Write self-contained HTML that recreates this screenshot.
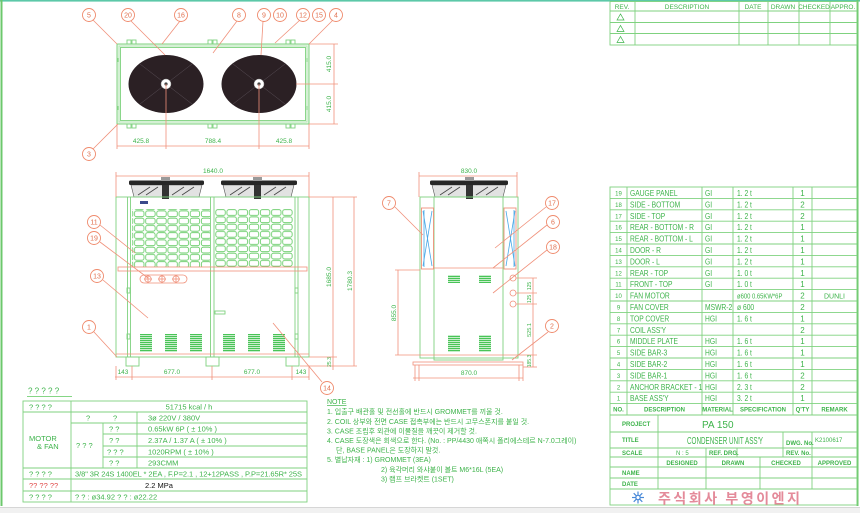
<!DOCTYPE html>
<html><head><meta charset="utf-8">
<style>
html,body{margin:0;padding:0;background:#fff;}
svg{display:block;}
text{font-family:"Liberation Sans","Noto Sans CJK KR",sans-serif;}
.g{fill:#3db34a;}
.gs{fill:#3db34a;font-size:8px;}
.hd{font-family:"Liberation Serif",serif;font-weight:bold;font-size:6px;fill:#3db34a;}
.ln{stroke:#7fd27f;stroke-width:0.9;fill:none;}
.rd{stroke:#f0907a;stroke-width:0.8;fill:none;}
.co{stroke:#ef8a6c;stroke-width:0.9;fill:#fff;}
.cn{fill:#e0704f;font-size:7px;text-anchor:middle;font-family:"Liberation Sans",sans-serif;}
.dm{fill:#3db34a;font-size:6.5px;text-anchor:middle;font-family:"Liberation Sans",sans-serif;}
.kr{font-family:"Liberation Sans","Noto Sans CJK KR",sans-serif;fill:#3db34a;font-size:7px;}
</style></head><body>
<svg width="860" height="513" viewBox="0 0 860 513" xmlns="http://www.w3.org/2000/svg">
<defs>
 <pattern id="coil" patternUnits="userSpaceOnUse" width="11.14" height="7.25">
  <rect x="0.8" y="0.7" width="9.5" height="5.8" rx="2" fill="none" stroke="#5cc85c" stroke-width="0.8"/>
 </pattern>
 <pattern id="louv" patternUnits="userSpaceOnUse" width="12" height="2">
  <rect x="0" y="0" width="12" height="1.3" fill="#49c457"/>
 </pattern>
</defs>

<!-- page border -->
<rect x="0" y="0" width="860" height="1.6" fill="#5cc8a8"/>
<line x1="1.5" y1="0" x2="1.5" y2="506" stroke="#6cc86c" stroke-width="2"/>
<line x1="857.5" y1="0" x2="857.5" y2="506" stroke="#6cc86c" stroke-width="2"/>
<rect x="0" y="507" width="860" height="6" fill="#f1f1f1"/>
<line x1="0" y1="507.5" x2="860" y2="507.5" stroke="#d6d6d6" stroke-width="1"/>

<!-- ===== PLAN VIEW ===== -->
<rect x="117" y="44" width="192" height="80" fill="#e6f6e6" stroke="#7fd27f" stroke-width="1"/>
<rect x="120.5" y="47.5" width="185" height="73" fill="#fff" stroke="#7fd27f" stroke-width="0.9"/>
<rect x="119" y="46" width="188" height="76" fill="none" stroke="#9edc9e" stroke-width="0.5"/>
<g class="ln">
 <rect x="127" y="40" width="4" height="4"/><rect x="132" y="40" width="4" height="4"/>
 <rect x="208" y="40" width="4" height="4"/><rect x="213" y="40" width="4" height="4"/>
 <rect x="286" y="40" width="4" height="4"/><rect x="291" y="40" width="4" height="4"/>
 <rect x="127" y="124" width="4" height="4"/><rect x="132" y="124" width="4" height="4"/>
 <rect x="208" y="124" width="4" height="4"/><rect x="213" y="124" width="4" height="4"/>
 <rect x="286" y="124" width="4" height="4"/><rect x="291" y="124" width="4" height="4"/>
 <line x1="118" y1="58" x2="118" y2="62"/><line x1="118" y1="106" x2="118" y2="110"/>
 <line x1="307" y1="58" x2="307" y2="62"/><line x1="307" y1="106" x2="307" y2="110"/>
</g>
<ellipse cx="166" cy="84" rx="37.5" ry="29" fill="#2b2024"/>
<ellipse cx="259" cy="84" rx="37.5" ry="29" fill="#2b2024"/>
<g stroke="#5a5058" stroke-width="0.5">
 <line x1="140" y1="64" x2="192" y2="104"/><line x1="192" y1="64" x2="140" y2="104"/>
 <line x1="233" y1="64" x2="285" y2="104"/><line x1="285" y1="64" x2="233" y2="104"/>
</g>
<circle cx="166" cy="84" r="5" fill="#fff" stroke="#999" stroke-width="0.5"/>
<circle cx="259" cy="84" r="5" fill="#fff" stroke="#999" stroke-width="0.5"/>
<circle cx="166" cy="84" r="1.6" fill="#444"/><circle cx="259" cy="84" r="1.6" fill="#444"/>
<g class="rd">
 <line x1="93" y1="20" x2="117" y2="44"/>
 <line x1="131" y1="21" x2="165" y2="55"/>
 <line x1="180" y1="21" x2="162" y2="44"/>
 <line x1="237" y1="21" x2="213" y2="53"/>
 <line x1="263" y1="21" x2="261" y2="55"/>
 <line x1="300" y1="20" x2="275" y2="43"/>
 <line x1="333" y1="20" x2="309" y2="44"/>
 <line x1="93" y1="149" x2="118" y2="124"/>
 <line x1="117" y1="146" x2="309" y2="146"/>
 <line x1="117" y1="124" x2="117" y2="149"/>
 <line x1="166" y1="84" x2="166" y2="149"/>
 <line x1="259" y1="84" x2="259" y2="149"/>
 <line x1="309" y1="124" x2="309" y2="149"/>
 <line x1="334" y1="44" x2="334" y2="124"/>
 <line x1="309" y1="44" x2="338" y2="44"/>
 <line x1="296" y1="84" x2="338" y2="84"/>
 <line x1="309" y1="124" x2="338" y2="124"/>
</g>
<text class="dm" x="141" y="143">425.8</text>
<text class="dm" x="213" y="143">788.4</text>
<text class="dm" x="284" y="143">425.8</text>
<text class="dm" transform="translate(331,64) rotate(-90)">415.0</text>
<text class="dm" transform="translate(331,104) rotate(-90)">415.0</text>
<g>
 <circle class="co" cx="89" cy="15" r="6.5"/><text class="cn" x="89" y="17.5">5</text>
 <circle class="co" cx="128" cy="15" r="6.5"/><text class="cn" x="128" y="17.5">20</text>
 <circle class="co" cx="181" cy="15" r="6.5"/><text class="cn" x="181" y="17.5">16</text>
 <circle class="co" cx="239" cy="15" r="6.5"/><text class="cn" x="239" y="17.5">8</text>
 <circle class="co" cx="264" cy="15" r="6.5"/><text class="cn" x="264" y="17.5">9</text>
 <circle class="co" cx="280" cy="15" r="6.5"/><text class="cn" x="280" y="17.5">10</text>
 <circle class="co" cx="303" cy="15" r="6.5"/><text class="cn" x="303" y="17.5">12</text>
 <circle class="co" cx="319" cy="15" r="6.5"/><text class="cn" x="319" y="17.5">15</text>
 <circle class="co" cx="336" cy="15" r="6.5"/><text class="cn" x="336" y="17.5">4</text>
 <circle class="co" cx="89" cy="154" r="6.5"/><text class="cn" x="89" y="156.5">3</text>
</g>

<!-- ===== FRONT VIEW ===== -->
<g>
 <polygon points="131,185 202,185 199,197 134,197" fill="#e2e2e2" stroke="#555" stroke-width="0.6"/>
 <g stroke="#444" stroke-width="0.8"><line x1="138" y1="195" x2="150" y2="187"/><line x1="146" y1="195" x2="158" y2="187"/><line x1="172" y1="195" x2="184" y2="187"/><line x1="182" y1="195" x2="194" y2="187"/></g>
 <rect x="129" y="180.5" width="75" height="4.5" rx="1.5" fill="#262626"/>
 <rect x="161" y="177" width="9" height="4" fill="#999"/>
 <rect x="162" y="185" width="7" height="14" fill="#333"/>
 <polygon points="223,185 294,185 291,197 226,197" fill="#e2e2e2" stroke="#555" stroke-width="0.6"/>
 <g stroke="#444" stroke-width="0.8"><line x1="230" y1="195" x2="242" y2="187"/><line x1="238" y1="195" x2="250" y2="187"/><line x1="264" y1="195" x2="276" y2="187"/><line x1="274" y1="195" x2="286" y2="187"/></g>
 <rect x="221" y="180.5" width="76" height="4.5" rx="1.5" fill="#262626"/>
 <rect x="253" y="177" width="9" height="4" fill="#999"/>
 <rect x="254" y="185" width="7" height="14" fill="#333"/>
</g>
<g class="ln">
 <rect x="116" y="197" width="193" height="160"/>
 <line x1="127.5" y1="197" x2="127.5" y2="357"/>
 <line x1="130.5" y1="197" x2="130.5" y2="357"/>
 <line x1="210.5" y1="197" x2="210.5" y2="357"/>
 <line x1="214" y1="197" x2="214" y2="357"/>
 <line x1="295" y1="197" x2="295" y2="357"/>
 <line x1="298" y1="197" x2="298" y2="357"/>
 <rect x="215" y="311" width="10" height="3"/>
 <rect x="127" y="288" width="3" height="5"/><rect x="127" y="334" width="3" height="5"/>
 <rect x="295" y="288" width="3" height="5"/><rect x="295" y="334" width="3" height="5"/>
 <rect x="126" y="357" width="13" height="9"/>
 <rect x="206" y="357" width="13" height="9"/>
 <rect x="286" y="357" width="13" height="9"/>
</g>
<rect x="140" y="201" width="8" height="3" fill="#3a4a8a"/>
<rect x="132" y="209" width="78" height="58" fill="url(#coil)"/>
<g transform="translate(215,209)"><rect x="0" y="0" width="78" height="58" fill="url(#coil)"/></g>
<rect x="118" y="267" width="189" height="4" class="rd"/>
<rect x="140" y="275" width="47" height="8" rx="4" class="rd"/>
<g class="rd">
 <circle cx="148" cy="279" r="3.2"/><line x1="144" y1="279" x2="152" y2="279"/><line x1="148" y1="275" x2="148" y2="283"/>
 <circle cx="162" cy="279" r="3.2"/><line x1="158" y1="279" x2="166" y2="279"/><line x1="162" y1="275" x2="162" y2="283"/>
 <circle cx="176" cy="279" r="3.2"/><line x1="172" y1="279" x2="180" y2="279"/><line x1="176" y1="275" x2="176" y2="283"/>
 <line x1="116" y1="354" x2="309" y2="354"/>
</g>
<g>
 <rect x="140" y="334" width="12" height="18" fill="url(#louv)"/>
 <rect x="165" y="334" width="12" height="18" fill="url(#louv)"/>
 <rect x="190" y="334" width="12" height="18" fill="url(#louv)"/>
 <rect x="223" y="334" width="12" height="18" fill="url(#louv)"/>
 <rect x="248" y="334" width="12" height="18" fill="url(#louv)"/>
 <rect x="273" y="334" width="12" height="18" fill="url(#louv)"/>
</g>
<g class="rd">
 <line x1="116" y1="176" x2="309" y2="176"/>
 <line x1="116" y1="172" x2="116" y2="197"/><line x1="309" y1="172" x2="309" y2="197"/>
 <line x1="309" y1="197" x2="357" y2="197"/>
 <line x1="309" y1="357" x2="337" y2="357"/>
 <line x1="300" y1="366" x2="357" y2="366"/>
 <line x1="333" y1="197" x2="333" y2="370"/>
 <line x1="354" y1="197" x2="354" y2="366"/>
 <line x1="115" y1="377" x2="309" y2="377"/>
 <line x1="116" y1="366" x2="116" y2="380"/>
 <line x1="132" y1="366" x2="132" y2="380"/>
 <line x1="212" y1="366" x2="212" y2="380"/>
 <line x1="292" y1="366" x2="292" y2="380"/>
 <line x1="309" y1="366" x2="309" y2="380"/>
</g>
<text class="dm" x="213" y="173">1640.0</text>
<text class="dm" transform="translate(331,277) rotate(-90)">1685.0</text>
<text class="dm" transform="translate(352,281) rotate(-90)">1780.3</text>
<text class="dm" style="font-size:5px" transform="translate(331,362) rotate(-90)">25.3</text>
<text class="dm" x="123" y="374">143</text>
<text class="dm" x="172" y="374">677.0</text>
<text class="dm" x="252" y="374">677.0</text>
<text class="dm" x="301" y="374">143</text>
<g class="rd">
 <line x1="100" y1="225" x2="135" y2="253"/>
 <line x1="100" y1="242" x2="148" y2="278"/>
 <line x1="103" y1="280" x2="148" y2="318"/>
 <line x1="94" y1="332" x2="117" y2="357"/>
 <line x1="322" y1="382" x2="273" y2="323"/>
</g>
<circle class="co" cx="94" cy="222" r="6.5"/><text class="cn" x="94" y="224.5">11</text>
<circle class="co" cx="94" cy="238" r="6.5"/><text class="cn" x="94" y="240.5">19</text>
<circle class="co" cx="97" cy="276" r="6.5"/><text class="cn" x="97" y="278.5">13</text>
<circle class="co" cx="89" cy="327" r="6.5"/><text class="cn" x="89" y="329.5">1</text>
<circle class="co" cx="327" cy="388" r="6.5"/><text class="cn" x="327" y="390.5">14</text>

<!-- ===== SIDE VIEW ===== -->
<polygon points="432,185 506,185 503,197 435,197" fill="#e2e2e2" stroke="#555" stroke-width="0.6"/>
<g stroke="#444" stroke-width="0.8"><line x1="440" y1="195" x2="452" y2="187"/><line x1="448" y1="195" x2="460" y2="187"/><line x1="476" y1="195" x2="488" y2="187"/><line x1="486" y1="195" x2="498" y2="187"/></g>
<rect x="430" y="180.5" width="78" height="4.5" rx="1.5" fill="#262626"/>
<rect x="465" y="177" width="9" height="4" fill="#999"/>
<rect x="466" y="185" width="7" height="14" fill="#333"/>
<g class="ln">
 <rect x="420" y="197" width="98" height="161"/>
 <rect x="434" y="197" width="69" height="163"/>
</g>
<g>
 <rect x="421.5" y="208" width="12" height="61" fill="none" stroke="#f0907a" stroke-width="0.9"/>
 <rect x="504" y="208" width="12" height="61" fill="none" stroke="#f0907a" stroke-width="0.9"/>
 <g stroke="#4aa8e6" stroke-width="0.8">
  <line x1="423" y1="211" x2="432" y2="266"/><line x1="432" y1="211" x2="423" y2="266"/>
  <line x1="506" y1="211" x2="515" y2="266"/><line x1="515" y1="211" x2="506" y2="266"/>
  <line x1="424" y1="210" x2="424" y2="267"/><line x1="514" y1="210" x2="514" y2="267"/>
 </g>
</g>
<g class="rd">
 <line x1="434" y1="268" x2="503" y2="268"/>
 <line x1="420" y1="355" x2="518" y2="355"/>
 <rect x="413" y="362" width="110" height="3"/>
 <line x1="415" y1="365" x2="415" y2="381"/><line x1="419" y1="365" x2="419" y2="381"/>
 <line x1="519" y1="365" x2="519" y2="381"/><line x1="523" y1="365" x2="523" y2="381"/>
 <circle cx="513" cy="278" r="3"/><circle cx="513" cy="293" r="3"/><circle cx="513" cy="304" r="3"/>
 <line x1="419" y1="176" x2="517" y2="176"/>
 <line x1="419" y1="172" x2="419" y2="197"/><line x1="517" y1="172" x2="517" y2="197"/>
 <line x1="395" y1="270" x2="420" y2="270"/><line x1="395" y1="355" x2="420" y2="355"/>
 <line x1="398" y1="270" x2="398" y2="355"/>
 <line x1="533" y1="278" x2="533" y2="367"/>
 <line x1="516" y1="278" x2="537" y2="278"/><line x1="516" y1="293" x2="537" y2="293"/>
 <line x1="516" y1="304" x2="537" y2="304"/><line x1="518" y1="355" x2="537" y2="355"/>
 <line x1="523" y1="367" x2="537" y2="367"/>
 <line x1="413" y1="378" x2="523" y2="378"/>
 <line x1="395" y1="207" x2="423" y2="235"/>
 <line x1="546" y1="207" x2="495" y2="248"/>
 <line x1="547" y1="225" x2="493" y2="268"/>
 <line x1="547" y1="250" x2="493" y2="293"/>
 <line x1="548" y1="332" x2="512" y2="360"/>
</g>
<g>
 <rect x="448" y="275" width="12" height="8" fill="url(#louv)"/>
 <rect x="479" y="275" width="12" height="8" fill="url(#louv)"/>
 <rect x="448" y="335" width="12" height="17" fill="url(#louv)"/>
 <rect x="479" y="335" width="12" height="17" fill="url(#louv)"/>
</g>
<text class="dm" x="469" y="173">830.0</text>
<text class="dm" x="469" y="375">870.0</text>
<text class="dm" transform="translate(396,313) rotate(-90)">855.0</text>
<text class="dm" style="font-size:5px" transform="translate(531,286) rotate(-90)">125</text>
<text class="dm" style="font-size:5px" transform="translate(531,299) rotate(-90)">125</text>
<text class="dm" style="font-size:5.5px" transform="translate(531,330) rotate(-90)">525.1</text>
<text class="dm" style="font-size:5px" transform="translate(531,361) rotate(-90)">185.3</text>
<circle class="co" cx="389" cy="203" r="6.5"/><text class="cn" x="389" y="205.5">7</text>
<circle class="co" cx="552" cy="203" r="6.5"/><text class="cn" x="552" y="205.5">17</text>
<circle class="co" cx="553" cy="222" r="6.5"/><text class="cn" x="553" y="224.5">6</text>
<circle class="co" cx="553" cy="247" r="6.5"/><text class="cn" x="553" y="249.5">18</text>
<circle class="co" cx="552" cy="326" r="6.5"/><text class="cn" x="552" y="328.5">2</text>

<!-- ===== REVISION TABLE ===== -->
<g class="ln">
 <rect x="610" y="1.5" width="247" height="43.5"/>
 <line x1="610" y1="11" x2="857" y2="11"/>
 <line x1="610" y1="22.5" x2="857" y2="22.5"/>
 <line x1="610" y1="33.5" x2="857" y2="33.5"/>
 <line x1="635" y1="1.5" x2="635" y2="45"/>
 <line x1="739" y1="1.5" x2="739" y2="45"/>
 <line x1="768" y1="1.5" x2="768" y2="45"/>
 <line x1="799" y1="1.5" x2="799" y2="45"/>
 <line x1="830" y1="1.5" x2="830" y2="45"/>
</g>
<g class="hd" style="font-size:6.5px;font-weight:normal" text-anchor="middle">
 <text x="622" y="9">REV.</text>
 <text x="687" y="9">DESCRIPTION</text>
 <text x="753" y="9">DATE</text>
 <text x="783" y="9">DRAWN</text>
 <text x="814" y="9">CHECKED</text>
 <text x="843" y="9">APPRO.</text>
</g>
<g fill="none" stroke="#3db34a" stroke-width="0.7">
 <polygon points="617,20 620.5,14 624,20"/>
 <polygon points="617,31.5 620.5,25.5 624,31.5"/>
 <polygon points="617,42.5 620.5,36.5 624,42.5"/>
</g>

<!-- ===== PARTS LIST ===== -->
<g class="ln">
 <rect x="610" y="187" width="247" height="318"/>
 <line x1="610" y1="198.4" x2="857" y2="198.4"/>
 <line x1="610" y1="209.8" x2="857" y2="209.8"/>
 <line x1="610" y1="221.2" x2="857" y2="221.2"/>
 <line x1="610" y1="232.6" x2="857" y2="232.6"/>
 <line x1="610" y1="244" x2="857" y2="244"/>
 <line x1="610" y1="255.4" x2="857" y2="255.4"/>
 <line x1="610" y1="266.8" x2="857" y2="266.8"/>
 <line x1="610" y1="278.2" x2="857" y2="278.2"/>
 <line x1="610" y1="289.6" x2="857" y2="289.6"/>
 <line x1="610" y1="301" x2="857" y2="301"/>
 <line x1="610" y1="312.4" x2="857" y2="312.4"/>
 <line x1="610" y1="323.8" x2="857" y2="323.8"/>
 <line x1="610" y1="335.2" x2="857" y2="335.2"/>
 <line x1="610" y1="346.6" x2="857" y2="346.6"/>
 <line x1="610" y1="358" x2="857" y2="358"/>
 <line x1="610" y1="369.4" x2="857" y2="369.4"/>
 <line x1="610" y1="380.8" x2="857" y2="380.8"/>
 <line x1="610" y1="392.2" x2="857" y2="392.2"/>
 <line x1="610" y1="403.6" x2="857" y2="403.6"/>
 <line x1="610" y1="415" x2="857" y2="415"/>
 <line x1="627" y1="187" x2="627" y2="415"/>
 <line x1="702" y1="187" x2="702" y2="415"/>
 <line x1="733" y1="187" x2="733" y2="415"/>
 <line x1="793" y1="187" x2="793" y2="415"/>
 <line x1="812" y1="187" x2="812" y2="415"/>
 <line x1="610" y1="432" x2="857" y2="432"/>
 <line x1="610" y1="448" x2="857" y2="448"/>
 <line x1="610" y1="457" x2="857" y2="457"/>
 <line x1="610" y1="467" x2="857" y2="467"/>
 <line x1="610" y1="478" x2="857" y2="478"/>
 <line x1="610" y1="489" x2="857" y2="489"/>
 <line x1="658" y1="415" x2="658" y2="489"/>
 <line x1="783" y1="432" x2="783" y2="457"/>
 <line x1="812" y1="432" x2="812" y2="489"/>
 <line x1="706" y1="448" x2="706" y2="489"/>
 <line x1="737" y1="448" x2="737" y2="457"/>
 <line x1="760" y1="457" x2="760" y2="489"/>
</g>
<g class="gs">
 <g style="font-size:6px" text-anchor="middle">
  <text x="618.5" y="195.5">19</text><text x="618.5" y="206.9">18</text><text x="618.5" y="218.3">17</text>
  <text x="618.5" y="229.7">16</text><text x="618.5" y="241.1">15</text><text x="618.5" y="252.5">14</text>
  <text x="618.5" y="263.9">13</text><text x="618.5" y="275.3">12</text><text x="618.5" y="286.7">11</text>
  <text x="618.5" y="298.1">10</text><text x="618.5" y="309.5">9</text><text x="618.5" y="320.9">8</text>
  <text x="618.5" y="332.3">7</text><text x="618.5" y="343.7">6</text><text x="618.5" y="355.1">5</text>
  <text x="618.5" y="366.5">4</text><text x="618.5" y="377.9">3</text><text x="618.5" y="389.3">2</text>
  <text x="618.5" y="400.7">1</text>
 </g>
 <g transform="matrix(0.84,0,0,1,630,0)">
 <text x="0" y="196">GAUGE PANEL</text>
 <text x="0" y="207.4">SIDE - BOTTOM</text>
 <text x="0" y="218.8">SIDE - TOP</text>
 <text x="0" y="230.2">REAR - BOTTOM - R</text>
 <text x="0" y="241.6">REAR - BOTTOM - L</text>
 <text x="0" y="253">DOOR - R</text>
 <text x="0" y="264.4">DOOR - L</text>
 <text x="0" y="275.8">REAR - TOP</text>
 <text x="0" y="287.2">FRONT - TOP</text>
 <text x="0" y="298.6">FAN    MOTOR</text>
 <text x="0" y="310">FAN COVER</text>
 <text x="0" y="321.4">TOP COVER</text>
 <text x="0" y="332.8">COIL ASS'Y</text>
 <text x="0" y="344.2">MIDDLE PLATE</text>
 <text x="0" y="355.6">SIDE BAR-3</text>
 <text x="0" y="367">SIDE BAR-2</text>
 <text x="0" y="378.4">SIDE BAR-1</text>
 <text x="0" y="389.8">ANCHOR BRACKET - 1</text>
 <text x="0" y="401.2">BASE ASS'Y</text>
 </g>
 <g transform="matrix(0.84,0,0,1,705,0)">
 <text x="0" y="196">GI</text><text x="0" y="207.4">GI</text><text x="0" y="218.8">GI</text>
 <text x="0" y="230.2">GI</text><text x="0" y="241.6">GI</text><text x="0" y="253">GI</text>
 <text x="0" y="264.4">GI</text><text x="0" y="275.8">GI</text><text x="0" y="287.2">GI</text>
 <text x="0" y="310">MSWR-2</text>
 <text x="0" y="321.4">HGI</text><text x="0" y="344.2">HGI</text><text x="0" y="355.6">HGI</text>
 <text x="0" y="367">HGI</text><text x="0" y="378.4">HGI</text><text x="0" y="389.8">HGI</text>
 <text x="0" y="401.2">HGI</text>
 </g>
 <g transform="matrix(0.84,0,0,1,737,0)">
 <text x="0" y="196">1. 2 t</text><text x="0" y="207.4">1. 2 t</text><text x="0" y="218.8">1. 2 t</text>
 <text x="0" y="230.2">1. 2 t</text><text x="0" y="241.6">1. 2 t</text><text x="0" y="253">1. 2 t</text>
 <text x="0" y="264.4">1. 2 t</text><text x="0" y="275.8">1. 0 t</text><text x="0" y="287.2">1. 0 t</text>
 <text x="0" y="298.6" style="font-size:7px">ø600 0.65KW*6P</text>
 <text x="0" y="310">ø 600</text>
 <text x="0" y="321.4">1. 6 t</text><text x="0" y="344.2">1. 6 t</text><text x="0" y="355.6">1. 6 t</text>
 <text x="0" y="367">1. 6 t</text><text x="0" y="378.4">1. 6 t</text><text x="0" y="389.8">2. 3 t</text>
 <text x="0" y="401.2">3. 2 t</text>
 </g>
 <g text-anchor="middle">
  <text x="802.5" y="196">1</text><text x="802.5" y="207.4">2</text><text x="802.5" y="218.8">2</text>
  <text x="802.5" y="230.2">1</text><text x="802.5" y="241.6">1</text><text x="802.5" y="253">1</text>
  <text x="802.5" y="264.4">1</text><text x="802.5" y="275.8">1</text><text x="802.5" y="287.2">1</text>
  <text x="802.5" y="298.6">2</text><text x="802.5" y="310">2</text><text x="802.5" y="321.4">1</text>
  <text x="802.5" y="332.8">2</text><text x="802.5" y="344.2">1</text><text x="802.5" y="355.6">1</text>
  <text x="802.5" y="367">1</text><text x="802.5" y="378.4">2</text><text x="802.5" y="389.8">2</text>
  <text x="802.5" y="401.2">1</text>
  <text x="834.5" y="298.6" style="font-size:7px">DUNLI</text>
 </g>
</g>
<g class="hd" text-anchor="middle">
 <text x="618.5" y="411.5">NO.</text>
 <text x="664.5" y="411.5">DESCRIPTION</text>
 <text x="717.5" y="411.5">MATERIAL</text>
 <text x="763" y="411.5">SPECIFICATION</text>
 <text x="802.5" y="411.5">Q'TY</text>
 <text x="834.5" y="411.5">REMARK</text>
</g>
<g class="hd">
 <text x="622" y="426">PROJECT</text>
 <text x="622" y="442">TITLE</text>
 <text x="622" y="455">SCALE</text>
 <text x="622" y="475">NAME</text>
 <text x="622" y="486">DATE</text>
 <text x="786" y="445">DWG. No.</text>
 <text x="709" y="455">REF. DRG.</text>
 <text x="786" y="455">REV. No.</text>
 <text x="676" y="455" style="font-weight:normal">N : 5</text>
 <text x="815" y="442" style="font-weight:normal">K2100617</text>
 <g text-anchor="middle">
  <text x="682" y="465">DESIGNED</text>
  <text x="733" y="465">DRAWN</text>
  <text x="786" y="465">CHECKED</text>
  <text x="834.5" y="465">APPROVED</text>
 </g>
</g>
<text x="702" y="428" style="font-family:'Liberation Sans',sans-serif;font-size:10px;fill:#3db34a">PA  150</text>
<text x="687" y="444" class="g" style="font-size:10px" textLength="76" lengthAdjust="spacingAndGlyphs">CONDENSER UNIT ASS'Y</text>
<g transform="translate(638,497.5)" stroke="#4a8ad8" stroke-width="1.2">
 <line x1="-6" y1="0" x2="6" y2="0"/><line x1="0" y1="-6" x2="0" y2="6"/>
 <line x1="-4.3" y1="-4.3" x2="4.3" y2="4.3"/><line x1="-4.3" y1="4.3" x2="4.3" y2="-4.3"/>
 <circle r="2.2" fill="#fff"/>
</g>
<text x="658" y="503.5" textLength="142" style="font-family:'Noto Sans CJK KR','Liberation Sans',sans-serif;font-size:14px;font-weight:bold;fill:#e48a9a">주식회사 부영이엔지</text>

<!-- ===== SPEC TABLE ===== -->
<text x="28" y="393.5" class="gs">? ? ? ? ?</text>
<line x1="27" y1="396.5" x2="72" y2="396.5" stroke="#5cc85c" stroke-width="0.8"/>
<g class="ln">
 <rect x="23" y="401" width="284" height="101"/>
 <line x1="23" y1="412" x2="307" y2="412"/>
 <line x1="71" y1="423" x2="307" y2="423"/>
 <line x1="103" y1="434" x2="307" y2="434"/>
 <line x1="103" y1="446" x2="307" y2="446"/>
 <line x1="103" y1="457" x2="307" y2="457"/>
 <line x1="23" y1="468" x2="307" y2="468"/>
 <line x1="23" y1="479" x2="307" y2="479"/>
 <line x1="23" y1="491" x2="307" y2="491"/>
 <line x1="71" y1="401" x2="71" y2="502"/>
 <line x1="103" y1="423" x2="103" y2="468"/>
 <line x1="137" y1="412" x2="137" y2="468"/>
</g>
<g class="gs" style="font-size:7.5px">
 <text x="29" y="409.5">? ? ? ?</text>
 <text x="189" y="409.5" text-anchor="middle">51715  kcal  /  h</text>
 <text x="86" y="420.5">?</text><text x="113" y="420.5">?</text>
 <text x="148" y="420.5">3ø  220V  /  380V</text>
 <text x="29" y="441">MOTOR</text>
 <text x="37" y="449">&amp; FAN</text>
 <text x="76" y="448">? ? ?</text>
 <text x="109" y="431.5">?     ?</text>
 <text x="109" y="443">?     ?</text>
 <text x="107" y="454.5">? ? ?</text>
 <text x="109" y="465.5">?     ?</text>
 <text x="148" y="431.5">0.65kW  6P  (  ±  10%  )</text>
 <text x="148" y="443">2.37A  /  1.37  A  (  ±  10%  )</text>
 <text x="148" y="454.5">1020RPM  (  ±  10%  )</text>
 <text x="148" y="465.5">293CMM</text>
 <text x="29" y="476.5">? ? ? ?</text>
 <text x="75" y="476.5" textLength="227">3/8"  3R  24S  1400EL  *  2EA  ,  F.P=2.1  ,  12+12PASS  ,  P.P=21.65R*  25S</text>
 <text x="29" y="488" style="fill:#e04848">?? ?? ??</text>
 <text x="145" y="488" style="fill:#111">2.2  MPa</text>
 <text x="29" y="499.5">? ? ? ?</text>
 <text x="75" y="499.5">? ? : ø34.92      ? ? : ø22.22</text>
</g>

<!-- ===== NOTES ===== -->
<g class="kr">
 <text x="327" y="404" style="text-decoration:underline">NOTE</text>
 <text x="327" y="414">1.  입출구 배관홀 및 전선홀에 반드시 GROMMET를 끼울 것.</text>
 <text x="327" y="424">2.  COIL 상부와 전면 CASE 접촉부에는 반드시 고무스폰지를 붙일 것.</text>
 <text x="327" y="433.5">3.  CASE 조립후 외관에 이물질을 깨끗이 제거할 것.</text>
 <text x="327" y="443">4.  CASE 도장색은 회색으로 한다. (No. : PP/4430 애쪽시 폴리에스테르 N-7.0그레이)</text>
 <text x="336" y="452.5">단,  BASE PANEL은 도장하지 말것.</text>
 <text x="327" y="462">5.  별납자재 :  1)  GROMMET  (3EA)</text>
 <text x="381" y="472">2)  육각머리 와샤붙이 볼트 M6*16L  (5EA)</text>
 <text x="381" y="481.5">3)  램프 브라켓트 (1SET)</text>
</g>
</svg>
</body></html>
